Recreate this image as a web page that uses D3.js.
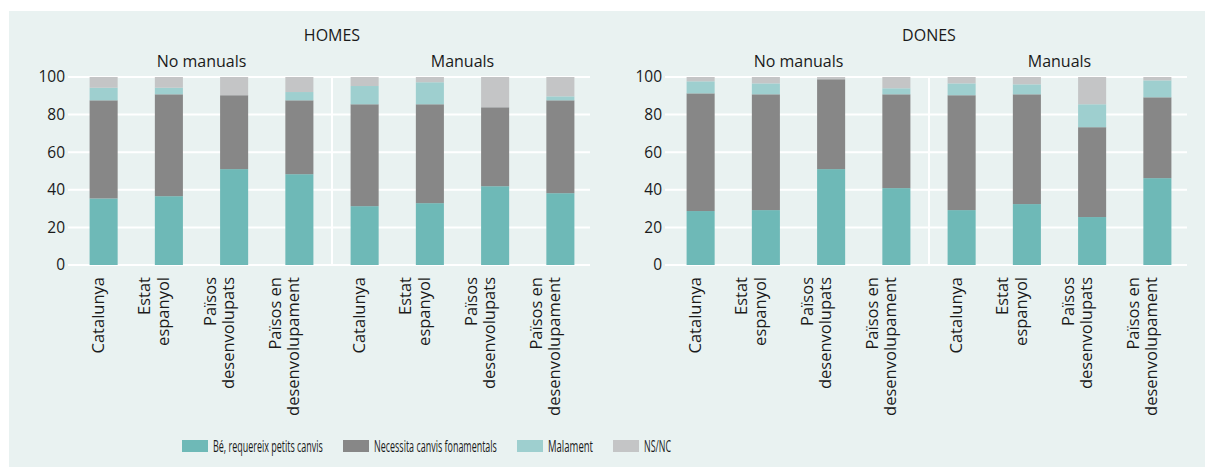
<!DOCTYPE html>
<html>
<head>
<meta charset="utf-8">
<script src="https://cdn.jsdelivr.net/npm/d3@7"></script>
<style>
  html, body { margin: 0; padding: 0; background: #ffffff; }
  svg { display: block; }
  text { font-family: "Open Sans", "Noto Sans", sans-serif; fill: #1a1a1a; }
</style>
</head>
<body>
<svg id="chart" width="1205" height="470"></svg>
<script>
// ---- data ----
const panels = ["HOMES", "DONES"];
const groups = ["No manuals", "Manuals"];
const categories = [
  ["Catalunya"],
  ["Estat", "espanyol"],
  ["Països", "desenvolupats"],
  ["Països en", "desenvolupament"]
];
const seriesNames = ["Bé, requereix petits canvis", "Necessita canvis fonamentals", "Malament", "NS/NC"];
const seriesColors = ["#6eb9b7", "#878787", "#9ecfcf", "#c4c5c6"];
const yTicks = [0, 20, 40, 60, 80, 100];

// HOMES: No manuals (4) then Manuals (4)
const homesBe        = [35.4, 36.6, 51.0, 48.3, 31.3, 32.9, 41.9, 38.2];
const homesNecessita = [52.2, 54.2, 39.3, 39.3, 54.2, 52.6, 42.0, 49.4];
const homesMalament  = [6.7, 3.5, 0.0, 4.4, 9.7, 11.7, 0.0, 2.1];
const homesNsnc      = [5.7, 5.7, 9.7, 8.0, 4.8, 2.8, 16.1, 10.3];
// DONES
const donesBe        = [28.7, 29.2, 51.0, 40.9, 29.2, 32.4, 25.5, 46.2];
const donesNecessita = [62.6, 61.6, 47.8, 49.9, 61.1, 58.4, 47.8, 43.0];
const donesMalament  = [6.4, 5.8, 0.0, 3.2, 6.3, 5.3, 12.2, 9.0];
const donesNsnc      = [2.3, 3.4, 1.2, 6.0, 3.4, 3.9, 14.5, 1.8];

const panelData = [
  [homesBe, homesNecessita, homesMalament, homesNsnc],
  [donesBe, donesNecessita, donesMalament, donesNsnc]
];

// ---- layout ----
const svg = d3.select("#chart");
svg.append("rect").attr("x", 9).attr("y", 11).attr("width", 1196).attr("height", 456)
  .attr("fill", "#e9f2f1");

const y = d3.scaleLinear().domain([0, 100]).range([265, 77]);
const panelX0 = [69, 666];
const plotW = 522;
const bars = d3.range(8);

panels.forEach((pName, pi) => {
  const x0 = panelX0[pi];
  const x = d3.scaleBand().domain(bars).range([x0 + 2, x0 + 2 + plotW])
    .paddingInner(0.57).paddingOuter(0.285);
  const g = svg.append("g");

  // gridlines
  g.selectAll("line.grid").data(yTicks).join("line")
    .attr("x1", x0 - 1).attr("x2", x0 + plotW - 1)
    .attr("y1", d => y(d)).attr("y2", d => y(d))
    .attr("stroke", "#ffffff").attr("stroke-width", 2);

  // separator between groups
  const sepX = x0 + 2 + x.step() * 4;
  g.append("line").attr("x1", sepX).attr("x2", sepX)
    .attr("y1", y(100)).attr("y2", y(0))
    .attr("stroke", "#ffffff").attr("stroke-width", 2);

  // y tick labels
  const yAxis = d3.axisLeft(y).tickValues(yTicks).tickSize(0).tickPadding(0);
  const ya = g.append("g").attr("transform", `translate(${x0 - 4},0)`).call(yAxis);
  ya.select(".domain").remove();
  ya.selectAll("text").attr("font-size", 15.5).attr("fill", "#1a1a1a")
    .attr("font-family", '"Open Sans", sans-serif');

  // stacked bars
  const rows = bars.map(i => {
    const o = { i };
    seriesNames.forEach((s, si) => { o[s] = panelData[pi][si][i]; });
    return o;
  });
  const stack = d3.stack().keys(seriesNames)(rows);
  g.selectAll("g.layer").data(stack).join("g")
    .attr("fill", (d, si) => seriesColors[si])
    .selectAll("rect").data(d => d).join("rect")
    .attr("x", d => x(d.data.i))
    .attr("width", x.bandwidth())
    .attr("y", d => y(d[1]))
    .attr("height", d => Math.max(0, y(d[0]) - y(d[1])));

  // panel title
  g.append("text").attr("x", sepX).attr("y", 41)
    .attr("text-anchor", "middle").attr("font-size", 16).text(pName);

  // group titles
  groups.forEach((gn, gi) => {
    const cFirst = x(gi * 4) + x.bandwidth() / 2;
    const cLast = x(gi * 4 + 3) + x.bandwidth() / 2;
    g.append("text").attr("x", (cFirst + cLast) / 2).attr("y", 67)
      .attr("text-anchor", "middle").attr("font-size", 16).text(gn);
  });

  // category labels (rotated)
  bars.forEach(i => {
    const lines = categories[i % 4];
    const cx = x(i) + x.bandwidth() / 2;
    const t = g.append("text")
      .attr("transform", `translate(${cx},277) rotate(-90)`)
      .attr("text-anchor", "end").attr("font-size", 16.5);
    lines.forEach((ln, li) => {
      t.append("tspan").attr("x", 0).attr("y", (li - (lines.length - 1)) * 18.5).text(ln);
    });
  });
});

// ---- legend (condensed look via horizontal scaling) ----
const legendTextW = [110, 123, 45, 27];
let lx = 182;
const lg = svg.append("g");
seriesNames.forEach((s, si) => {
  lg.append("rect").attr("x", lx).attr("y", 440).attr("width", 26).attr("height", 12)
    .attr("fill", seriesColors[si]);
  const tg = lg.append("g");
  const t = tg.append("text").attr("x", 0).attr("y", 0).attr("font-size", 16.5).text(s);
  const natural = t.node().getComputedTextLength();
  const sx = legendTextW[si] / natural;
  tg.attr("transform", `translate(${lx + 31},452) scale(${sx},1)`);
  lx += 26 + 5 + legendTextW[si] + 20;
});
</script>
</body>
</html>
